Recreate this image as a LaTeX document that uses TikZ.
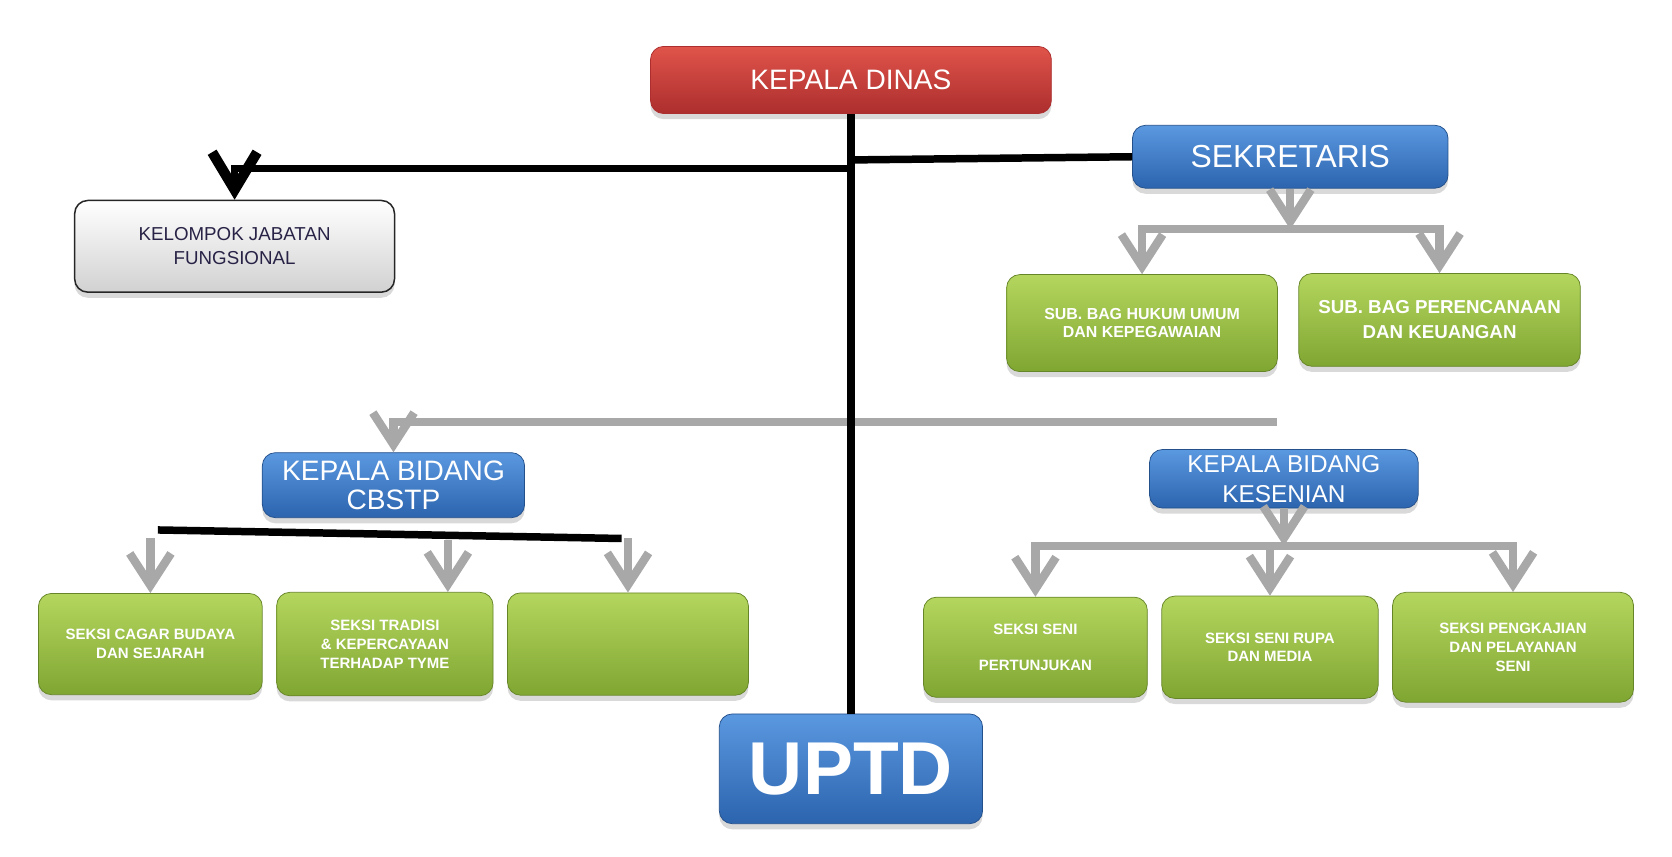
\documentclass[tikz,border=0pt]{standalone}
\usepackage{fontspec}
\setmainfont{Liberation Sans}
\usepackage{xcolor}
\definecolor{merah}{RGB}{224,84,74}
\definecolor{merahtua}{RGB}{172,46,46}
\definecolor{biru}{RGB}{90,152,224}
\definecolor{birutua}{RGB}{44,100,174}
\definecolor{hijau}{RGB}{180,214,94}
\definecolor{hijautua}{RGB}{128,166,50}
\definecolor{abu}{RGB}{168,168,168}
\definecolor{navy}{RGB}{40,35,70}
\usepackage{tikz}
\usetikzlibrary{positioning,arrows.meta,shadows}
\tikzset{
    kotak/.style={
    rectangle,rounded corners=7pt,inner sep=0pt,align=center,text=white,
    drop shadow={shadow xshift=0pt,shadow yshift=-3pt,opacity=0.3}
    },
    kepala/.style={
    kotak,draw=merahtua,top color=merah,bottom color=merahtua,font=\fontsize{15}{17}\selectfont
    },
    bidang/.style={
    kotak,draw=birutua!80!black,top color=biru,bottom color=birutua
    },
    seksi/.style={
    kotak,draw=hijautua!80!black,top color=hijau,bottom color=hijautua,font=\bfseries\fontsize{8}{10}\selectfont
    },
    fungs/.style={
    kotak,draw=black!85,line width=0.8pt,top color=white,bottom color=black!18,text=navy,font=\fontsize{10}{13}\selectfont
    },
  hitam/.style={draw=black, line width=4pt},
  hitamarr/.style={hitam, -{Straight Barb[length=20pt,width=24pt,line width=5.5pt]}},
  garis/.style={draw=abu, line width=4.5pt},
  garisarr/.style={garis, -{Straight Barb[length=17pt,width=22pt]}}
}
\begin{document}
\begin{tikzpicture}[x=0.02cm,y=-0.02cm]
    \useasboundingbox (0,0) rectangle (1568,803);

    \node[kepala,minimum width=7.52cm,minimum height=1.26cm] (dinas) at (798,75) {KEPALA DINAS};
    \node[bidang,minimum width=5.92cm,minimum height=1.18cm,font=\fontsize{17}{20}\selectfont] (sek) at (1210,147) {SEKRETARIS};
    \node[fungs,minimum width=6cm,minimum height=1.72cm] (kjf) at (220,231) {KELOMPOK JABATAN\\FUNGSIONAL};

    \node[seksi,minimum width=5.08cm,minimum height=1.82cm,font=\bfseries\fontsize{8.5}{10}\selectfont] (hk) at (1071,303) {SUB. BAG HUKUM UMUM\\DAN KEPEGAWAIAN};
    \node[seksi,minimum width=5.28cm,minimum height=1.74cm,font=\bfseries\fontsize{10}{13.5}\selectfont] (pk) at (1350,300) {SUB. BAG PERENCANAAN\\DAN KEUANGAN};

    \node[bidang,minimum width=4.92cm,minimum height=1.22cm,font=\fontsize{15}{15.5}\selectfont] (cbstp) at (369,455) {KEPALA BIDANG\\CBSTP};
    \node[bidang,minimum width=5.04cm,minimum height=1.1cm,font=\fontsize{13}{16}\selectfont] (kes) at (1204,449) {KEPALA BIDANG\\KESENIAN};

    % seksi cbstp
    \node[seksi,minimum width=4.2cm,minimum height=1.9cm] (cb1) at (141,604) {SEKSI CAGAR BUDAYA\\DAN SEJARAH};
    \node[seksi,minimum width=4.06cm,minimum height=1.94cm,right of=cb1,node distance=4.4cm] (cb2) {SEKSI TRADISI\\\& KEPERCAYAAN\\TERHADAP TYME};
    \node[seksi,minimum width=4.52cm,minimum height=1.92cm,right of=cb2,node distance=4.56cm] (cb3) {};

    % seksi kesenian
    \node[seksi,minimum width=4.2cm,minimum height=1.88cm] (ks1) at (971,607) {SEKSI SENI\\[1.1em]PERTUNJUKAN};
    \node[seksi,minimum width=4.06cm,minimum height=1.92cm,right of=ks1,node distance=4.4cm] (ks2) {SEKSI SENI RUPA\\DAN MEDIA};
    \node[seksi,minimum width=4.52cm,minimum height=2.06cm,right of=ks2,node distance=4.56cm] (ks3) {SEKSI PENGKAJIAN\\DAN PELAYANAN\\SENI};

    \node[bidang,minimum width=4.94cm,minimum height=2.06cm,font=\bfseries\fontsize{40}{40}\selectfont] (uptd) at (798,721) {UPTD};

    \coordinate (jl) at (798,158);
    \coordinate (jr) at (798,150);
    \coordinate (sbar) at (1210,215);
    \coordinate (gm) at (1198,396);
    \coordinate (bl) at (148,497);
    \coordinate (br) at (583,505);
    \coordinate (bm) at (420,506);
    \coordinate (kbar) at (1197,512);

    \begin{scope}[every path/.style=garisarr]
      \path (sek.south) -- (sbar);
      \path (sbar) -| (hk.north);
      \path (sbar) -| (pk.north);
      \path (gm) -| (cbstp.north);
      \path (cb1.north |- br) -- (cb1.north);
      \path (bm) -- (bm |- cb2.north);
      \path (cb3.north |- br) -- (cb3.north);
      \path (kes.south) -- (kes.south |- kbar);
      \path (kbar) -| (ks1.north);
      \path (ks2.north |- kbar) -- (ks2.north);
      \path (kbar) -| (ks3.north);
    \end{scope}

    \path[hitam] (dinas.south) -- (uptd.north);
    \path[hitamarr] (jl) -| (kjf.north);
    \path[hitam] (jr) -- (sek.west);
    \path[hitam] (bl) -- (br);

\end{tikzpicture}
\end{document}
